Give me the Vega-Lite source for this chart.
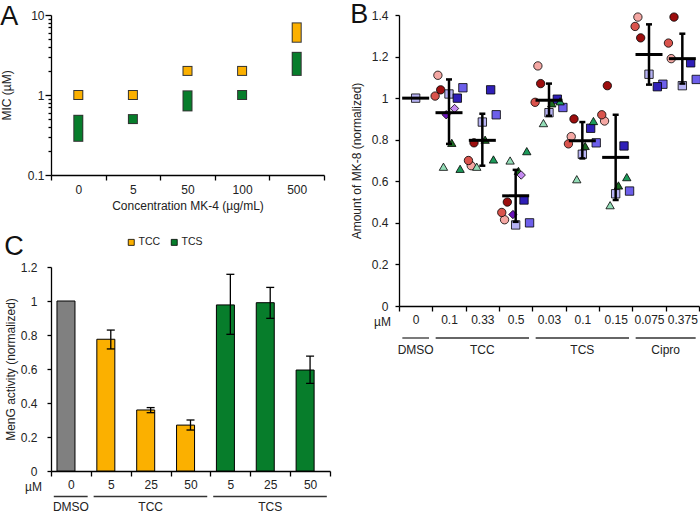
{
  "$schema": "https://vega.github.io/schema/vega-lite/v6.json",
  "background": "white",
  "padding": {"left": 0, "top": 1, "right": 0, "bottom": 0},
  "config": {
    "view": {"stroke": null},
    "font": "Liberation Sans",
    "axis": {"labelFont": "Liberation Sans", "titleFont": "Liberation Sans", "labelFontSize": 12, "titleFontSize": 12, "titleFontWeight": "normal", "domainColor": "#000", "tickColor": "#000", "labelColor": "#222", "titleColor": "#222", "grid": false, "domainWidth": 1.3, "tickWidth": 1.3, "labelOverlap": false},
    "title": {"font": "Liberation Sans", "fontSize": 27, "fontWeight": "normal", "anchor": "start", "frame": "bounds", "color": "#111", "baseline": "alphabetic"},
    "text": {"font": "Liberation Sans", "fontSize": 12, "color": "#222"},
    "tick": {"opacity": 1}
  },
  "datasets": {
    "apts": [
      {"mk": "0", "drug": "TCC", "lo": 1, "hi": 1},
      {"mk": "5", "drug": "TCC", "lo": 1, "hi": 1},
      {"mk": "50", "drug": "TCC", "lo": 2, "hi": 2},
      {"mk": "100", "drug": "TCC", "lo": 2, "hi": 2},
      {"mk": "500", "drug": "TCC", "lo": 5.2, "hi": 7.0},
      {"mk": "0", "drug": "TCS", "lo": 0.3, "hi": 0.49},
      {"mk": "5", "drug": "TCS", "lo": 0.5, "hi": 0.5},
      {"mk": "50", "drug": "TCS", "lo": 0.72, "hi": 0.99},
      {"mk": "100", "drug": "TCS", "lo": 1, "hi": 1},
      {"mk": "500", "drug": "TCS", "lo": 2.0, "hi": 3.0}
    ],
    "bpts": [
      {"g": "DMSO|0", "set": "sq", "id": "B1", "v": 1.0},
      {"g": "TCC|0.1", "set": "ci", "id": "A1", "v": 1.11},
      {"g": "TCC|0.1", "set": "ci", "id": "A2", "v": 1.01},
      {"g": "TCC|0.1", "set": "ci", "id": "A3", "v": 1.04},
      {"g": "TCC|0.1", "set": "sq", "id": "B1", "v": 1.02},
      {"g": "TCC|0.1", "set": "sq", "id": "B2", "v": 1.05},
      {"g": "TCC|0.1", "set": "sq", "id": "B3", "v": 1.0},
      {"g": "TCC|0.1", "set": "tr", "id": "C1", "v": 0.67},
      {"g": "TCC|0.1", "set": "tr", "id": "C2", "v": 0.66},
      {"g": "TCC|0.1", "set": "tr", "id": "C3", "v": 0.785},
      {"g": "TCC|0.1", "set": "di", "id": "D1", "v": 0.95},
      {"g": "TCC|0.1", "set": "di", "id": "D2", "v": 0.92},
      {"g": "TCC|0.33", "set": "ci", "id": "A1", "v": 0.675},
      {"g": "TCC|0.33", "set": "ci", "id": "A2", "v": 0.7},
      {"g": "TCC|0.33", "set": "ci", "id": "A3", "v": 0.785},
      {"g": "TCC|0.33", "set": "sq", "id": "B1", "v": 0.885},
      {"g": "TCC|0.33", "set": "sq", "id": "B2", "v": 0.92},
      {"g": "TCC|0.33", "set": "sq", "id": "B3", "v": 1.04},
      {"g": "TCC|0.33", "set": "tr", "id": "C1", "v": 0.67},
      {"g": "TCC|0.33", "set": "tr", "id": "C2", "v": 0.705},
      {"g": "TCC|0.33", "set": "tr", "id": "C3", "v": 0.8},
      {"g": "TCC|0.5", "set": "ci", "id": "A1", "v": 0.415},
      {"g": "TCC|0.5", "set": "ci", "id": "A2", "v": 0.45},
      {"g": "TCC|0.5", "set": "ci", "id": "A3", "v": 0.5},
      {"g": "TCC|0.5", "set": "sq", "id": "B1", "v": 0.39},
      {"g": "TCC|0.5", "set": "sq", "id": "B2", "v": 0.4},
      {"g": "TCC|0.5", "set": "sq", "id": "B3", "v": 0.51},
      {"g": "TCC|0.5", "set": "tr", "id": "C1", "v": 0.7},
      {"g": "TCC|0.5", "set": "tr", "id": "C2", "v": 0.745},
      {"g": "TCC|0.5", "set": "tr", "id": "C3", "v": 0.65},
      {"g": "TCC|0.5", "set": "di", "id": "D1", "v": 0.63},
      {"g": "TCC|0.5", "set": "di", "id": "D2", "v": 0.44},
      {"g": "TCS|0.03", "set": "ci", "id": "A1", "v": 1.155},
      {"g": "TCS|0.03", "set": "ci", "id": "A2", "v": 0.98},
      {"g": "TCS|0.03", "set": "ci", "id": "A3", "v": 1.07},
      {"g": "TCS|0.03", "set": "sq", "id": "B1", "v": 0.93},
      {"g": "TCS|0.03", "set": "sq", "id": "B2", "v": 0.955},
      {"g": "TCS|0.03", "set": "sq", "id": "B3", "v": 0.995},
      {"g": "TCS|0.03", "set": "tr", "id": "C1", "v": 0.88},
      {"g": "TCS|0.03", "set": "tr", "id": "C2", "v": 0.985},
      {"g": "TCS|0.03", "set": "tr", "id": "C3", "v": 0.975},
      {"g": "TCS|0.1", "set": "ci", "id": "A1", "v": 0.815},
      {"g": "TCS|0.1", "set": "ci", "id": "A2", "v": 0.78},
      {"g": "TCS|0.1", "set": "ci", "id": "A3", "v": 0.9},
      {"g": "TCS|0.1", "set": "sq", "id": "B1", "v": 0.73},
      {"g": "TCS|0.1", "set": "sq", "id": "B2", "v": 0.785},
      {"g": "TCS|0.1", "set": "sq", "id": "B3", "v": 0.855},
      {"g": "TCS|0.1", "set": "tr", "id": "C1", "v": 0.61},
      {"g": "TCS|0.1", "set": "tr", "id": "C2", "v": 0.89},
      {"g": "TCS|0.1", "set": "tr", "id": "C3", "v": 0.77},
      {"g": "TCS|0.15", "set": "ci", "id": "A1", "v": 0.89},
      {"g": "TCS|0.15", "set": "ci", "id": "A2", "v": 0.92},
      {"g": "TCS|0.15", "set": "ci", "id": "A3", "v": 1.06},
      {"g": "TCS|0.15", "set": "sq", "id": "B1", "v": 0.54},
      {"g": "TCS|0.15", "set": "sq", "id": "B2", "v": 0.553},
      {"g": "TCS|0.15", "set": "sq", "id": "B3", "v": 0.77},
      {"g": "TCS|0.15", "set": "tr", "id": "C1", "v": 0.485},
      {"g": "TCS|0.15", "set": "tr", "id": "C2", "v": 0.62},
      {"g": "TCS|0.15", "set": "tr", "id": "C3", "v": 0.58},
      {"g": "Cipro|0.075", "set": "ci", "id": "A1", "v": 1.39},
      {"g": "Cipro|0.075", "set": "ci", "id": "A2", "v": 1.345},
      {"g": "Cipro|0.075", "set": "ci", "id": "A3", "v": 1.29},
      {"g": "Cipro|0.075", "set": "sq", "id": "B1", "v": 1.115},
      {"g": "Cipro|0.075", "set": "sq", "id": "B2", "v": 1.067},
      {"g": "Cipro|0.075", "set": "sq", "id": "B3", "v": 1.055},
      {"g": "Cipro|0.375", "set": "ci", "id": "A1", "v": 1.19},
      {"g": "Cipro|0.375", "set": "ci", "id": "A2", "v": 1.265},
      {"g": "Cipro|0.375", "set": "ci", "id": "A3", "v": 1.39},
      {"g": "Cipro|0.375", "set": "sq", "id": "B1", "v": 1.06},
      {"g": "Cipro|0.375", "set": "sq", "id": "B2", "v": 1.09},
      {"g": "Cipro|0.375", "set": "sq", "id": "B3", "v": 1.17}
    ],
    "bstats": [
      {"g": "DMSO|0", "mean": 1.0, "lo": null, "hi": null},
      {"g": "TCC|0.1", "mean": 0.93, "lo": 0.78, "hi": 1.09},
      {"g": "TCC|0.33", "mean": 0.797, "lo": 0.675, "hi": 0.925},
      {"g": "TCC|0.5", "mean": 0.53, "lo": 0.405, "hi": 0.655},
      {"g": "TCS|0.03", "mean": 0.99, "lo": 0.915, "hi": 1.07},
      {"g": "TCS|0.1", "mean": 0.795, "lo": 0.71, "hi": 0.885},
      {"g": "TCS|0.15", "mean": 0.715, "lo": 0.51, "hi": 0.92},
      {"g": "Cipro|0.075", "mean": 1.21, "lo": 1.065, "hi": 1.355},
      {"g": "Cipro|0.375", "mean": 1.19, "lo": 1.07, "hi": 1.31}
    ],
    "bgroups": [
      {"grp": "DMSO", "first": "DMSO|0", "last": "DMSO|0", "mid": "DMSO|0"},
      {"grp": "TCC", "first": "TCC|0.1", "last": "TCC|0.5", "mid": "TCC|0.33"},
      {"grp": "TCS", "first": "TCS|0.03", "last": "TCS|0.15", "mid": "TCS|0.1"},
      {"grp": "Cipro", "first": "Cipro|0.075", "last": "Cipro|0.375", "mid": "Cipro|0.375"}
    ],
    "cbars": [
      {"g": "DMSO|0", "grp": "DMSO", "v": 1.0, "lo": null, "hi": null},
      {"g": "TCC|5", "grp": "TCC", "v": 0.775, "lo": 0.718, "hi": 0.829},
      {"g": "TCC|25", "grp": "TCC", "v": 0.359, "lo": 0.343, "hi": 0.373},
      {"g": "TCC|50", "grp": "TCC", "v": 0.27, "lo": 0.241, "hi": 0.3},
      {"g": "TCS|5", "grp": "TCS", "v": 0.977, "lo": 0.804, "hi": 1.157},
      {"g": "TCS|25", "grp": "TCS", "v": 0.99, "lo": 0.898, "hi": 1.08},
      {"g": "TCS|50", "grp": "TCS", "v": 0.594, "lo": 0.516, "hi": 0.676}
    ],
    "cgroups": [
      {"grp": "DMSO", "first": "DMSO|0", "last": "DMSO|0", "mid": "DMSO|0"},
      {"grp": "TCC", "first": "TCC|5", "last": "TCC|50", "mid": "TCC|25"},
      {"grp": "TCS", "first": "TCS|5", "last": "TCS|50", "mid": "TCS|25"}
    ]
  },
  "resolve": {"scale": {"color": "independent", "fill": "independent", "shape": "independent"}, "legend": {"color": "independent", "fill": "independent", "shape": "independent"}},
  "spacing": 19,
  "hconcat": [
    {
      "spacing": 22,
      "resolve": {"scale": {"color": "independent"}, "legend": {"color": "independent"}},
      "vconcat": [
        {
          "width": 273, "height": 160,
          "title": {"text": "A", "offset": -22},
          "data": {"name": "apts"},
          "encoding": {
            "x": {"field": "mk", "type": "nominal", "sort": ["0", "5", "50", "100", "500"], "scale": {"paddingInner": 0, "paddingOuter": 0},
              "axis": {"title": "Concentration MK-4 (µg/mL)", "labelAngle": 0, "tickBand": "extent", "tickSize": 5, "labelPadding": 4, "titlePadding": 5}},
            "y": {"field": "lo", "type": "quantitative", "scale": {"type": "log", "domain": [0.1, 10], "nice": false},
              "axis": {"title": "MIC (µM)", "values": [0.1, 0.2, 0.3, 0.4, 0.5, 0.6, 0.7, 0.8, 0.9, 1, 2, 3, 4, 5, 6, 7, 8, 9, 10],
                "labelExpr": "datum.value == 0.1 ? '0.1' : datum.value == 1 ? '1' : datum.value == 10 ? '10' : ''",
                "tickSize": {"condition": {"test": "datum.value == 0.1 || datum.value == 1 || datum.value == 10", "value": 6}, "value": 3},
                "labelPadding": 1, "titlePadding": 14}},
            "y2": {"field": "hi"}
          },
          "layer": [
            {
              "mark": {"type": "rule", "strokeWidth": 10, "strokeCap": "square", "color": "#333"}
            },
            {
              "mark": {"type": "rule", "strokeWidth": 8, "strokeCap": "square"},
              "encoding": {
                "color": {"field": "drug", "type": "nominal", "scale": {"domain": ["TCC", "TCS"], "range": ["#FBB000", "#077D2B"]}, "legend": null}
              }
            }
          ]
        },
        {
          "spacing": 0,
          "vconcat": [
            {
              "width": 279, "height": 204,
              "title": {"text": "C", "offset": 0},
              "data": {"name": "cbars"},
              "encoding": {
                "x": {"field": "g", "type": "nominal", "sort": ["DMSO|0", "TCC|5", "TCC|25", "TCC|50", "TCS|5", "TCS|25", "TCS|50"], "scale": {"paddingInner": 0, "paddingOuter": 0},
                  "axis": {"title": "µM", "labelExpr": "split(datum.label, '|')[1]", "labelAngle": 0, "tickBand": "extent", "tickSize": 5, "labelPadding": 3, "titleAngle": 0, "titleX": -18, "titleY": 15, "titleBaseline": "middle", "titleAlign": "center"}},
                "y": {"field": "v", "type": "quantitative", "scale": {"domain": [0, 1.2], "nice": false},
                  "axis": {"title": "MenG activity (normalized)", "values": [0, 0.2, 0.4, 0.6, 0.8, 1, 1.2], "format": "~g", "tickSize": 4, "labelPadding": 10, "titlePadding": 3, "labelOverlap": false, "labelSeparation": 0}}
              },
              "layer": [
                {
                  "mark": {"type": "bar", "width": {"band": 0.7}, "stroke": "#000", "strokeWidth": 1},
                  "encoding": {
                    "color": {"field": "grp", "type": "nominal", "scale": {"domain": ["DMSO", "TCC", "TCS"], "range": ["#808080", "#FBB000", "#077D2B"]},
                      "legend": {"values": ["TCC", "TCS"], "title": null, "orient": "none", "legendX": 75, "legendY": -30, "direction": "horizontal", "symbolType": "square", "symbolSize": 36, "symbolStrokeColor": "#000", "symbolStrokeWidth": 0.8, "labelFontSize": 10.5, "labelFont": "Liberation Sans", "labelColor": "#222", "columnPadding": 8, "labelOffset": 2, "symbolOpacity": 1}}
                  }
                },
                {
                  "mark": {"type": "rule", "color": "#000", "strokeWidth": 1.3},
                  "encoding": {"y": {"field": "lo", "type": "quantitative"}, "y2": {"field": "hi"}}
                },
                {
                  "mark": {"type": "tick", "color": "#000", "thickness": 1.3, "size": 8, "opacity": 1},
                  "encoding": {"y": {"field": "lo", "type": "quantitative"}}
                },
                {
                  "mark": {"type": "tick", "color": "#000", "thickness": 1.3, "size": 8, "opacity": 1},
                  "encoding": {"y": {"field": "hi", "type": "quantitative"}}
                }
              ]
            },
            {
              "width": 279, "height": 9,
              "data": {"name": "cgroups"},
              "encoding": {
                "x": {"field": "first", "type": "nominal", "bandPosition": 0.07, "scale": {"domain": ["DMSO|0", "TCC|5", "TCC|25", "TCC|50", "TCS|5", "TCS|25", "TCS|50"], "paddingInner": 0, "paddingOuter": 0}, "axis": null}
              },
              "layer": [
                {
                  "mark": {"type": "rule", "color": "#333", "strokeWidth": 1.3},
                  "encoding": {"x2": {"field": "last", "bandPosition": 0.92}}
                },
                {
                  "mark": {"type": "text", "dy": 10, "fontSize": 12},
                  "encoding": {"x": {"field": "mid", "type": "nominal", "bandPosition": 0.5}, "text": {"field": "grp"}}
                }
              ]
            }
          ]
        }
      ]
    },
    {
      "spacing": 0,
      "vconcat": [
        {
          "width": 300, "height": 291,
          "title": {"text": "B", "offset": -20},
          "encoding": {
            "x": {"field": "g", "type": "nominal", "sort": ["DMSO|0", "TCC|0.1", "TCC|0.33", "TCC|0.5", "TCS|0.03", "TCS|0.1", "TCS|0.15", "Cipro|0.075", "Cipro|0.375"], "scale": {"paddingInner": 0, "paddingOuter": 0},
              "axis": {"title": "µM", "labelExpr": "split(datum.label, '|')[1]", "labelAngle": 0, "tickBand": "extent", "tickSize": 5, "labelPadding": 3, "titleAngle": 0, "titleX": -17, "titleY": 15, "titleBaseline": "middle", "titleAlign": "center"}}
          },
          "layer": [
            {
              "data": {"name": "bpts"},
              "mark": {"type": "point", "filled": true, "size": 70, "stroke": "#000", "strokeWidth": 0.8, "opacity": 1},
              "encoding": {
                "y": {"field": "v", "type": "quantitative", "scale": {"domain": [0, 1.4], "nice": false},
                  "axis": {"title": "Amount of MK-8 (normalized)", "values": [0, 0.2, 0.4, 0.6, 0.8, 1, 1.2, 1.4], "format": "~g", "tickSize": 4, "labelPadding": 7, "titlePadding": 8}},
                "xOffset": {"field": "id", "type": "nominal", "scale": {"domain": ["A2", "A1", "A3", "C1", "D2", "B1", "C3", "D1", "B3", "C2", "B2"], "paddingInner": 0, "paddingOuter": 3.75}},
                "shape": {"field": "set", "type": "nominal", "scale": {"domain": ["ci", "sq", "tr", "di"], "range": ["circle", "square", "triangle-up", "diamond"]}, "legend": null},
                "fill": {"field": "id", "type": "nominal", "scale": {"domain": ["A1", "A2", "A3", "B1", "B2", "B3", "C1", "C2", "C3", "D1", "D2"], "range": ["#F4A7A3", "#D9534C", "#9C0E0E", "#B7B3F4", "#6D5FEA", "#2F1FB8", "#93DDB7", "#1D9A5A", "#1C6A22", "#C48AF0", "#6A12B8"]}, "legend": null}
              }
            },
            {
              "data": {"name": "bstats"},
              "mark": {"type": "rule", "color": "#000", "strokeWidth": 2.5},
              "encoding": {"y": {"field": "lo", "type": "quantitative"}, "y2": {"field": "hi"}}
            },
            {
              "data": {"name": "bstats"},
              "mark": {"type": "tick", "color": "#000", "thickness": 2.5, "size": 6, "opacity": 1},
              "encoding": {"y": {"field": "lo", "type": "quantitative"}}
            },
            {
              "data": {"name": "bstats"},
              "mark": {"type": "tick", "color": "#000", "thickness": 2.5, "size": 6, "opacity": 1},
              "encoding": {"y": {"field": "hi", "type": "quantitative"}}
            },
            {
              "data": {"name": "bstats"},
              "mark": {"type": "tick", "color": "#000", "thickness": 3, "size": 27, "opacity": 1},
              "encoding": {"y": {"field": "mean", "type": "quantitative"}}
            }
          ]
        },
        {
          "width": 300, "height": 22,
          "data": {"name": "bgroups"},
          "encoding": {
            "x": {"field": "first", "type": "nominal", "bandPosition": 0.1, "scale": {"domain": ["DMSO|0", "TCC|0.1", "TCC|0.33", "TCC|0.5", "TCS|0.03", "TCS|0.1", "TCS|0.15", "Cipro|0.075", "Cipro|0.375"], "paddingInner": 0, "paddingOuter": 0}, "axis": null}
          },
          "layer": [
            {
              "mark": {"type": "rule", "color": "#333", "strokeWidth": 1.3},
              "encoding": {"x2": {"field": "last", "bandPosition": 0.9}}
            },
            {
              "transform": [{"filter": "datum.grp != 'Cipro'"}],
              "mark": {"type": "text", "dy": 12, "fontSize": 12},
              "encoding": {"x": {"field": "mid", "type": "nominal", "bandPosition": 0.5}, "text": {"field": "grp"}}
            },
            {
              "transform": [{"filter": "datum.grp == 'Cipro'"}],
              "mark": {"type": "text", "dy": 12, "fontSize": 12},
              "encoding": {"x": {"field": "mid", "type": "nominal", "bandPosition": 0}, "text": {"field": "grp"}}
            }
          ]
        }
      ]
    }
  ]
}
